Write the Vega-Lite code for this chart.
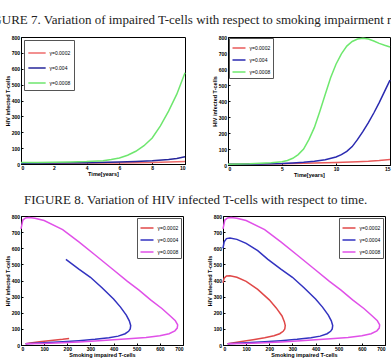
{
  "$schema": "https://vega.github.io/schema/vega-lite/v6.json",
  "padding": {"left": -20, "top": 13, "right": 0, "bottom": 0},
  "background": "white",
  "datasets": {
    "tl": [
      {"s":"γ=0.0002","x":0,"y":5},{"s":"γ=0.0002","x":2,"y":5},{"s":"γ=0.0002","x":4,"y":6},{"s":"γ=0.0002","x":6,"y":7},{"s":"γ=0.0002","x":8,"y":10},{"s":"γ=0.0002","x":9,"y":12},{"s":"γ=0.0002","x":10,"y":15},
      {"s":"γ=0.004","x":0,"y":5},{"s":"γ=0.004","x":2,"y":6},{"s":"γ=0.004","x":4,"y":8},{"s":"γ=0.004","x":6,"y":12},{"s":"γ=0.004","x":7,"y":15},{"s":"γ=0.004","x":8,"y":20},{"s":"γ=0.004","x":9,"y":28},{"s":"γ=0.004","x":9.5,"y":35},{"s":"γ=0.004","x":10,"y":45},
      {"s":"γ=0.0008","x":0,"y":10},{"s":"γ=0.0008","x":1,"y":10},{"s":"γ=0.0008","x":2,"y":11},{"s":"γ=0.0008","x":3,"y":12},{"s":"γ=0.0008","x":4,"y":15},{"s":"γ=0.0008","x":5,"y":21},{"s":"γ=0.0008","x":5.5,"y":28},{"s":"γ=0.0008","x":6,"y":38},{"s":"γ=0.0008","x":6.5,"y":55},{"s":"γ=0.0008","x":7,"y":80},{"s":"γ=0.0008","x":7.5,"y":115},{"s":"γ=0.0008","x":8,"y":164},{"s":"γ=0.0008","x":8.5,"y":240},{"s":"γ=0.0008","x":9,"y":333},{"s":"γ=0.0008","x":9.5,"y":440},{"s":"γ=0.0008","x":10,"y":575}
    ],
    "tr": [
      {"s":"γ=0.0002","x":0,"y":5},{"s":"γ=0.0002","x":5,"y":8},{"s":"γ=0.0002","x":8,"y":12},{"s":"γ=0.0002","x":10,"y":15},{"s":"γ=0.0002","x":12,"y":20},{"s":"γ=0.0002","x":13,"y":23},{"s":"γ=0.0002","x":14,"y":28},{"s":"γ=0.0002","x":15,"y":35},
      {"s":"γ=0.004","x":0,"y":5},{"s":"γ=0.004","x":3,"y":7},{"s":"γ=0.004","x":5,"y":10},{"s":"γ=0.004","x":6,"y":13},{"s":"γ=0.004","x":7,"y":17},{"s":"γ=0.004","x":8,"y":24},{"s":"γ=0.004","x":9,"y":33},{"s":"γ=0.004","x":10,"y":50},{"s":"γ=0.004","x":10.5,"y":65},{"s":"γ=0.004","x":11,"y":85},{"s":"γ=0.004","x":11.5,"y":115},{"s":"γ=0.004","x":12,"y":160},{"s":"γ=0.004","x":12.5,"y":210},{"s":"γ=0.004","x":13,"y":265},{"s":"γ=0.004","x":13.5,"y":325},{"s":"γ=0.004","x":14,"y":390},{"s":"γ=0.004","x":14.5,"y":460},{"s":"γ=0.004","x":15,"y":530},
      {"s":"γ=0.0008","x":0,"y":5},{"s":"γ=0.0008","x":2,"y":8},{"s":"γ=0.0008","x":4,"y":14},{"s":"γ=0.0008","x":5,"y":20},{"s":"γ=0.0008","x":5.5,"y":28},{"s":"γ=0.0008","x":6,"y":42},{"s":"γ=0.0008","x":6.5,"y":65},{"s":"γ=0.0008","x":7,"y":100},{"s":"γ=0.0008","x":7.5,"y":160},{"s":"γ=0.0008","x":8,"y":235},{"s":"γ=0.0008","x":8.5,"y":335},{"s":"γ=0.0008","x":9,"y":440},{"s":"γ=0.0008","x":9.5,"y":545},{"s":"γ=0.0008","x":10,"y":630},{"s":"γ=0.0008","x":10.5,"y":695},{"s":"γ=0.0008","x":11,"y":743},{"s":"γ=0.0008","x":11.5,"y":772},{"s":"γ=0.0008","x":12,"y":787},{"s":"γ=0.0008","x":12.5,"y":792},{"s":"γ=0.0008","x":13,"y":787},{"s":"γ=0.0008","x":13.5,"y":775},{"s":"γ=0.0008","x":14,"y":760},{"s":"γ=0.0008","x":14.5,"y":748},{"s":"γ=0.0008","x":15,"y":737}
    ],
    "bl": [
      {"s":"γ=0.0002","o":0,"x":20,"y":8},{"s":"γ=0.0002","o":1,"x":40,"y":13},{"s":"γ=0.0002","o":2,"x":80,"y":20},{"s":"γ=0.0002","o":3,"x":130,"y":28},{"s":"γ=0.0002","o":4,"x":180,"y":35},{"s":"γ=0.0002","o":5,"x":208,"y":40},
      {"s":"γ=0.0004","o":0,"x":20,"y":8},{"s":"γ=0.0004","o":1,"x":100,"y":14},{"s":"γ=0.0004","o":2,"x":180,"y":20},{"s":"γ=0.0004","o":3,"x":250,"y":27},{"s":"γ=0.0004","o":4,"x":320,"y":35},{"s":"γ=0.0004","o":5,"x":380,"y":45},{"s":"γ=0.0004","o":6,"x":420,"y":55},{"s":"γ=0.0004","o":7,"x":450,"y":70},{"s":"γ=0.0004","o":8,"x":465,"y":85},{"s":"γ=0.0004","o":9,"x":472,"y":100},{"s":"γ=0.0004","o":10,"x":474,"y":120},{"s":"γ=0.0004","o":11,"x":468,"y":150},{"s":"γ=0.0004","o":12,"x":455,"y":185},{"s":"γ=0.0004","o":13,"x":430,"y":235},{"s":"γ=0.0004","o":14,"x":400,"y":285},{"s":"γ=0.0004","o":15,"x":350,"y":355},{"s":"γ=0.0004","o":16,"x":300,"y":420},{"s":"γ=0.0004","o":17,"x":250,"y":470},{"s":"γ=0.0004","o":18,"x":194,"y":531},
      {"s":"γ=0.0008","o":0,"x":20,"y":7},{"s":"γ=0.0008","o":1,"x":100,"y":10},{"s":"γ=0.0008","o":2,"x":177,"y":14},{"s":"γ=0.0008","o":3,"x":250,"y":19},{"s":"γ=0.0008","o":4,"x":321,"y":25},{"s":"γ=0.0008","o":5,"x":400,"y":32},{"s":"γ=0.0008","o":6,"x":465,"y":38},{"s":"γ=0.0008","o":7,"x":540,"y":46},{"s":"γ=0.0008","o":8,"x":600,"y":57},{"s":"γ=0.0008","o":9,"x":640,"y":70},{"s":"γ=0.0008","o":10,"x":665,"y":88},{"s":"γ=0.0008","o":11,"x":675,"y":105},{"s":"γ=0.0008","o":12,"x":677,"y":125},{"s":"γ=0.0008","o":13,"x":667,"y":150},{"s":"γ=0.0008","o":14,"x":645,"y":180},{"s":"γ=0.0008","o":15,"x":610,"y":225},{"s":"γ=0.0008","o":16,"x":560,"y":280},{"s":"γ=0.0008","o":17,"x":510,"y":340},{"s":"γ=0.0008","o":18,"x":460,"y":395},{"s":"γ=0.0008","o":19,"x":400,"y":465},{"s":"γ=0.0008","o":20,"x":323,"y":555},{"s":"γ=0.0008","o":21,"x":250,"y":640},{"s":"γ=0.0008","o":22,"x":180,"y":716},{"s":"γ=0.0008","o":23,"x":100,"y":772},{"s":"γ=0.0008","o":24,"x":60,"y":786},{"s":"γ=0.0008","o":25,"x":35,"y":790},{"s":"γ=0.0008","o":26,"x":20,"y":788},{"s":"γ=0.0008","o":27,"x":8,"y":775},{"s":"γ=0.0008","o":28,"x":0,"y":720}
    ],
    "br": [
      {"s":"γ=0.0002","o":0,"x":20,"y":8},{"s":"γ=0.0002","o":1,"x":40,"y":13},{"s":"γ=0.0002","o":2,"x":80,"y":22},{"s":"γ=0.0002","o":3,"x":130,"y":33},{"s":"γ=0.0002","o":4,"x":180,"y":45},{"s":"γ=0.0002","o":5,"x":220,"y":57},{"s":"γ=0.0002","o":6,"x":245,"y":70},{"s":"γ=0.0002","o":7,"x":260,"y":85},{"s":"γ=0.0002","o":8,"x":267,"y":100},{"s":"γ=0.0002","o":9,"x":269,"y":120},{"s":"γ=0.0002","o":10,"x":265,"y":145},{"s":"γ=0.0002","o":11,"x":255,"y":180},{"s":"γ=0.0002","o":12,"x":230,"y":230},{"s":"γ=0.0002","o":13,"x":200,"y":280},{"s":"γ=0.0002","o":14,"x":150,"y":345},{"s":"γ=0.0002","o":15,"x":100,"y":395},{"s":"γ=0.0002","o":16,"x":60,"y":420},{"s":"γ=0.0002","o":17,"x":30,"y":430},{"s":"γ=0.0002","o":18,"x":15,"y":428},{"s":"γ=0.0002","o":19,"x":5,"y":415},{"s":"γ=0.0002","o":20,"x":0,"y":385},
      {"s":"γ=0.0004","o":0,"x":20,"y":8},{"s":"γ=0.0004","o":1,"x":100,"y":14},{"s":"γ=0.0004","o":2,"x":180,"y":20},{"s":"γ=0.0004","o":3,"x":250,"y":27},{"s":"γ=0.0004","o":4,"x":320,"y":35},{"s":"γ=0.0004","o":5,"x":380,"y":45},{"s":"γ=0.0004","o":6,"x":420,"y":55},{"s":"γ=0.0004","o":7,"x":450,"y":70},{"s":"γ=0.0004","o":8,"x":465,"y":85},{"s":"γ=0.0004","o":9,"x":472,"y":100},{"s":"γ=0.0004","o":10,"x":474,"y":120},{"s":"γ=0.0004","o":11,"x":468,"y":150},{"s":"γ=0.0004","o":12,"x":455,"y":185},{"s":"γ=0.0004","o":13,"x":430,"y":235},{"s":"γ=0.0004","o":14,"x":400,"y":285},{"s":"γ=0.0004","o":15,"x":350,"y":355},{"s":"γ=0.0004","o":16,"x":300,"y":420},{"s":"γ=0.0004","o":17,"x":250,"y":470},{"s":"γ=0.0004","o":18,"x":194,"y":531},{"s":"γ=0.0004","o":19,"x":150,"y":585},{"s":"γ=0.0004","o":20,"x":100,"y":630},{"s":"γ=0.0004","o":21,"x":60,"y":655},{"s":"γ=0.0004","o":22,"x":30,"y":664},{"s":"γ=0.0004","o":23,"x":15,"y":660},{"s":"γ=0.0004","o":24,"x":5,"y":640},{"s":"γ=0.0004","o":25,"x":0,"y":600},
      {"s":"γ=0.0008","o":0,"x":20,"y":7},{"s":"γ=0.0008","o":1,"x":100,"y":10},{"s":"γ=0.0008","o":2,"x":177,"y":14},{"s":"γ=0.0008","o":3,"x":250,"y":19},{"s":"γ=0.0008","o":4,"x":321,"y":25},{"s":"γ=0.0008","o":5,"x":400,"y":32},{"s":"γ=0.0008","o":6,"x":465,"y":38},{"s":"γ=0.0008","o":7,"x":540,"y":46},{"s":"γ=0.0008","o":8,"x":600,"y":57},{"s":"γ=0.0008","o":9,"x":640,"y":70},{"s":"γ=0.0008","o":10,"x":665,"y":88},{"s":"γ=0.0008","o":11,"x":675,"y":105},{"s":"γ=0.0008","o":12,"x":677,"y":125},{"s":"γ=0.0008","o":13,"x":667,"y":150},{"s":"γ=0.0008","o":14,"x":645,"y":180},{"s":"γ=0.0008","o":15,"x":610,"y":225},{"s":"γ=0.0008","o":16,"x":560,"y":280},{"s":"γ=0.0008","o":17,"x":510,"y":340},{"s":"γ=0.0008","o":18,"x":460,"y":395},{"s":"γ=0.0008","o":19,"x":400,"y":465},{"s":"γ=0.0008","o":20,"x":323,"y":555},{"s":"γ=0.0008","o":21,"x":250,"y":640},{"s":"γ=0.0008","o":22,"x":180,"y":716},{"s":"γ=0.0008","o":23,"x":100,"y":772},{"s":"γ=0.0008","o":24,"x":60,"y":786},{"s":"γ=0.0008","o":25,"x":35,"y":790},{"s":"γ=0.0008","o":26,"x":20,"y":788},{"s":"γ=0.0008","o":27,"x":8,"y":775},{"s":"γ=0.0008","o":28,"x":0,"y":720}
    ]
  },
  "config": {
    "view": {"stroke": "black", "strokeWidth": 1},
    "axis": {"grid": false, "domainColor": "black", "tickColor": "black", "labelColor": "black", "titleColor": "black", "labelFont": "Liberation Sans", "labelFontSize": 5, "labelFontWeight": "bold", "titleFont": "Liberation Sans", "titleFontSize": 5.5, "titleFontWeight": "bold", "tickSize": -2, "labelPadding": 3.5, "titlePadding": 0.5},
    "legend": {"title": null, "orient": "top-left", "offset": 3, "padding": 2.5, "rowPadding": 1, "strokeColor": "#555", "fillColor": "white", "labelFont": "Liberation Sans", "labelFontSize": 5, "labelColor": "black", "symbolType": "stroke", "symbolStrokeWidth": 2, "symbolSize": 169, "labelOffset": 3},
    "title": {"font": "Liberation Serif", "fontSize": 13, "fontWeight": "normal", "color": "#222", "anchor": "middle", "offset": 8},
    "line": {"strokeWidth": 1.5}
  },
  "spacing": 15,
  "resolve": {"scale": {"color": "independent"}},
  "vconcat": [
    {
      "title": {"text": "FIGURE 7. Variation of impaired T-cells with respect to smoking impairment rate.", "dx": -4},
      "spacing": 23,
      "resolve": {"scale": {"color": "independent"}},
      "hconcat": [
        {
          "width": 164, "height": 127,
          "data": {"name": "tl"},
          "mark": "line",
          "encoding": {
            "x": {"field": "x", "type": "quantitative", "scale": {"domain": [0, 10], "nice": false}, "axis": {"values": [0, 2, 4, 6, 8, 10], "title": "Time[years]"}},
            "y": {"field": "y", "type": "quantitative", "scale": {"domain": [0, 800]}, "axis": {"values": [0, 100, 200, 300, 400, 500, 600, 700, 800], "title": "HIV infected T-cells"}},
            "color": {"field": "s", "type": "nominal", "scale": {"domain": ["γ=0.0002", "γ=0.004", "γ=0.0008"], "range": ["#ee6b6b", "#26269a", "#6ee66e"]}, "legend": {"symbolSize": 300, "padding": 3.5, "rowPadding": 2}}
          }
        },
        {
          "width": 162, "height": 128,
          "data": {"name": "tr"},
          "mark": "line",
          "encoding": {
            "x": {"field": "x", "type": "quantitative", "scale": {"domain": [0, 15], "nice": false}, "axis": {"values": [0, 5, 10, 15], "title": "Time[years]"}},
            "y": {"field": "y", "type": "quantitative", "scale": {"domain": [0, 800]}, "axis": {"values": [0, 100, 200, 300, 400, 500, 600, 700, 800], "title": "HIV infected T-cells"}},
            "color": {"field": "s", "type": "nominal", "scale": {"domain": ["γ=0.0002", "γ=0.004", "γ=0.0008"], "range": ["#e85a5a", "#2a2ab0", "#6ee86e"]}, "legend": {"offset": 1}}
          }
        }
      ]
    },
    {
      "title": {"text": "FIGURE 8. Variation of HIV infected T-cells with respect to time.", "offset": 7},
      "spacing": 23,
      "resolve": {"scale": {"color": "independent"}},
      "hconcat": [
        {
          "width": 162, "height": 129,
          "data": {"name": "bl"},
          "mark": "line",
          "encoding": {
            "x": {"field": "x", "type": "quantitative", "scale": {"domain": [0, 700], "nice": false}, "axis": {"values": [0, 100, 200, 300, 400, 500, 600, 700], "title": "Smoking impaired T-cells"}},
            "y": {"field": "y", "type": "quantitative", "scale": {"domain": [0, 800]}, "axis": {"values": [0, 100, 200, 300, 400, 500, 600, 700, 800], "title": "HIV infected T-cells"}},
            "order": {"field": "o", "type": "quantitative"},
            "color": {"field": "s", "type": "nominal", "scale": {"domain": ["γ=0.0002", "γ=0.0004", "γ=0.0008"], "range": ["#e04848", "#3232c0", "#e050e8"]}, "legend": {"orient": "top-right", "offset": 2}}
          }
        },
        {
          "width": 162, "height": 129,
          "data": {"name": "br"},
          "mark": "line",
          "encoding": {
            "x": {"field": "x", "type": "quantitative", "scale": {"domain": [0, 700], "nice": false}, "axis": {"values": [0, 100, 200, 300, 400, 500, 600, 700], "title": "Smoking impaired T-cells"}},
            "y": {"field": "y", "type": "quantitative", "scale": {"domain": [0, 800]}, "axis": {"values": [0, 100, 200, 300, 400, 500, 600, 700, 800], "title": "HIV infected T-cells"}},
            "order": {"field": "o", "type": "quantitative"},
            "color": {"field": "s", "type": "nominal", "scale": {"domain": ["γ=0.0002", "γ=0.0004", "γ=0.0008"], "range": ["#e04848", "#3232c0", "#e050e8"]}, "legend": {"orient": "top-right", "offset": 2}}
          }
        }
      ]
    }
  ]
}
